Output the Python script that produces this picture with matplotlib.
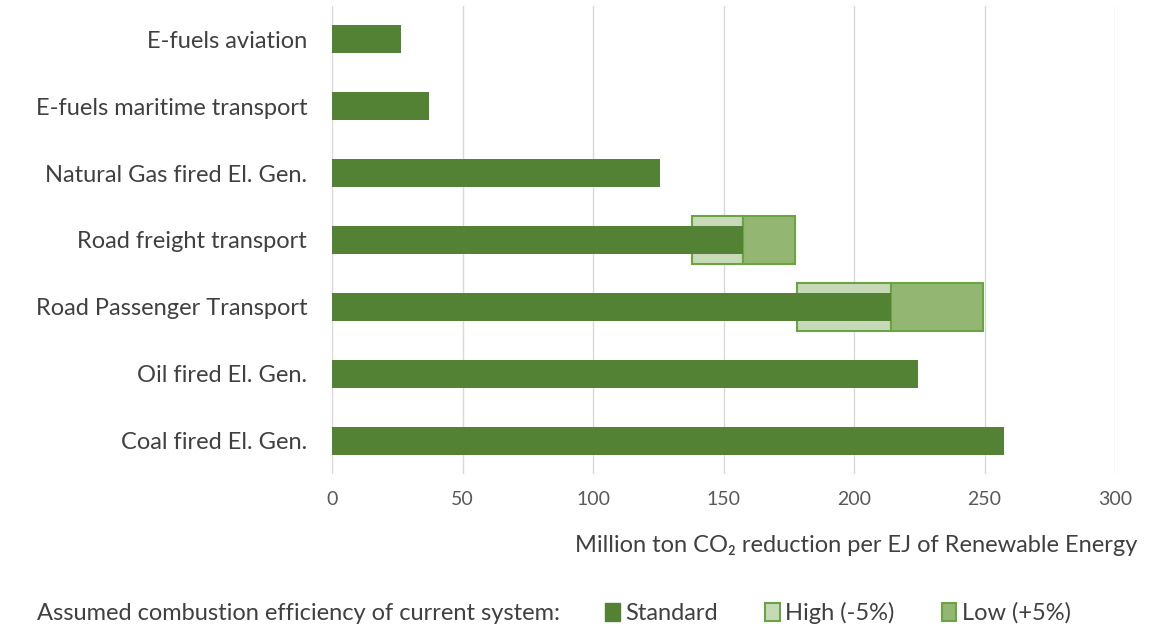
import matplotlib
matplotlib.use("Agg")
import matplotlib.pyplot as plt
from matplotlib.patches import Patch
import numpy as np

categories = ["E-fuels aviation", "E-fuels maritime transport", "Natural Gas fired El. Gen.",
              "Road freight transport", "Road Passenger Transport", "Oil fired El. Gen.",
              "Coal fired El. Gen."]
standard = [26.5, 37, 125.5, 157.5, 214, 224.5, 257.5]
high = [np.nan, np.nan, np.nan, 138, 178, np.nan, np.nan]
low = [np.nan, np.nan, np.nan, 177.5, 249.5, np.nan, np.nan]
xticks = [0, 50, 100, 150, 200, 250, 300]

FONT = ['Lato', 'DejaVu Sans']
plt.rcParams['font.family'] = FONT
TXT = '#404040'
TICK = '#595959'
DARK = '#548235'
EDGE = '#6aa443'
HIGHC = '#c7dab8'
LOWC = '#93b672'

fig = plt.figure(figsize=(11.63, 6.27), dpi=100)
W, H = 1163, 627
ax = fig.add_axes([332 / W, 1 - 474 / H, (1115 - 332) / W, (474 - 6) / H])

y = np.arange(len(categories))
std = np.array(standard)
hi = np.array(high)
lo = np.array(low)
mask = ~np.isnan(hi)

ax.barh(y[mask], std[mask] - hi[mask], left=hi[mask], height=0.72,
        color=HIGHC, edgecolor=EDGE, linewidth=1.5, zorder=2)
ax.barh(y[mask], lo[mask] - std[mask], left=std[mask], height=0.72,
        color=LOWC, edgecolor=EDGE, linewidth=1.5, zorder=2)
ax.barh(y, std, height=0.42, color=DARK, zorder=3)

ax.set_xlim(0, 300)
ax.set_ylim(len(categories) - 0.5, -0.5)
ax.set_xticks(xticks)
ax.set_yticks(y)
ax.set_yticklabels(categories, fontsize=17, color=TXT)
ax.tick_params(axis='x', labelsize=14, colors=TICK, length=0, pad=12)
ax.tick_params(axis='y', length=0, pad=18)
ax.grid(axis='x', color='#d9d9d9', linewidth=1, zorder=0)
ax.set_axisbelow(True)
for s in ax.spines.values():
    s.set_visible(False)

fig.text(1137 / W, 1 - 545 / H, "Million ton CO₂ reduction per EJ of Renewable Energy",
         ha='right', va='center', fontsize=17, color=TXT)

fig.text(37 / W, 1 - 613 / H, "Assumed combustion efficiency of current system:",
         ha='left', va='center', fontsize=17, color=TXT)
handles = [Patch(facecolor=DARK, edgecolor=DARK),
           Patch(facecolor=HIGHC, edgecolor=EDGE, linewidth=1.5),
           Patch(facecolor=LOWC, edgecolor=EDGE, linewidth=1.5)]
leg = fig.legend(handles, ["Standard", "High (-5%)", "Low (+5%)"], ncol=3,
                 loc='center left', bbox_to_anchor=(596 / W, 1 - 613 / H),
                 frameon=False, fontsize=17, handlelength=0.6, handleheight=0.8,
                 handletextpad=0.25, columnspacing=2.0, borderaxespad=0)
for t in leg.get_texts():
    t.set_color(TXT)

fig.savefig("out.png", dpi=100)
